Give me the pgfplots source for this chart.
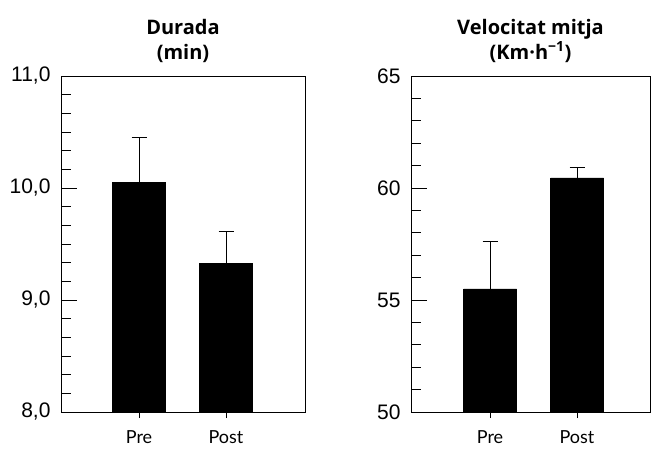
\documentclass[border=0pt]{standalone}
\usepackage{pgfplots}
\pgfplotsset{compat=1.18}
\usepackage{fontspec}
\setmainfont{Lato}
\newfontfamily\arialf{Liberation Sans}
\newfontfamily\titlef{Open Sans}
\begin{document}
\begin{tikzpicture}
\useasboundingbox (0pt,0pt) rectangle (652pt,448pt);
\pgfplotsset{
  panel/.style={
    scale only axis, anchor=south west,
    ybar, bar width=53pt, bar shift=0pt,
    axis line style={line width=0.9pt, black},
    xtick=\empty,
    ytick pos=left,
    tick align=inside,
    major tick length=16pt, minor tick length=10pt,
    every tick/.style={line width=0.9pt, black},
    /pgf/number format/assume math mode=true,
    yticklabel style={font=\arialf\fontsize{21}{24}\selectfont, xshift=-7pt},
  },
  xpanel/.style={
    scale only axis, anchor=south west,
    axis line style={draw=none},
    ytick=\empty,
    xtick={0,1}, xticklabels={Pre,Post},
    xtick pos=bottom,
    tick align=outside, major tick length=6pt,
    every tick/.style={line width=0.9pt, black},
    xticklabel style={font=\fontsize{18}{20}\selectfont, yshift=-9pt},
    title style={font=\titlef\bfseries\fontsize{20}{25}\selectfont, align=center, yshift=4pt},
  },
  errs/.style={fill=black, draw=black,
    error bars/.cd, y dir=plus, y explicit,
    error bar style={line width=1pt, black},
    error mark options={rotate=90, mark size=7.5pt, line width=1pt, black}},
}
% left panel
\begin{axis}[panel, at={(61pt,36pt)}, width=244pt, height=336pt,
  xmin=-0.897, xmax=1.908, ymin=8, ymax=11,
  ytick={8,9,10,11}, minor y tick num=5,
  yticklabel style={/pgf/number format/.cd, fixed, fixed zerofill, precision=1, use comma}]
\addplot[errs] coordinates {(0,10.05) +- (0,0.40) (1,9.33) +- (0,0.28)};
\end{axis}
\begin{axis}[xpanel, at={(61pt,36pt)}, width=244pt, height=336pt,
  xmin=-0.897, xmax=1.908, ymin=8, ymax=11,
  title={Durada\\(min)}]
\end{axis}
% right panel
\begin{axis}[panel, at={(411pt,36pt)}, width=239pt, height=336pt,
  xmin=-0.908, xmax=1.839, ymin=50, ymax=65,
  ytick={50,55,60,65}, minor y tick num=4]
\addplot[errs] coordinates {(0,55.5) +- (0,2.1) (1,60.45) +- (0,0.45)};
\end{axis}
\begin{axis}[xpanel, at={(411pt,36pt)}, width=239pt, height=336pt,
  xmin=-0.908, xmax=1.839, ymin=50, ymax=65,
  title={Velocitat mitja\\(Km·h\textsuperscript{−1})}]
\end{axis}
\end{tikzpicture}
\end{document}
